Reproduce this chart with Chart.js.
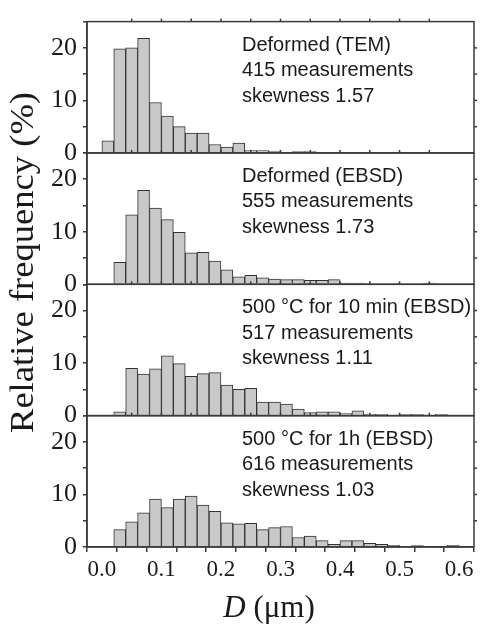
<!DOCTYPE html>
<html>
<head>
<meta charset="utf-8">
<script src="https://cdn.jsdelivr.net/npm/chart.js@4.4.1/dist/chart.umd.min.js"></script>
<style>
    html, body { margin: 0; padding: 0; background: #fff; }
    #wrap { width: 491px; height: 626px; }
</style>
</head>
<body>
<div id="wrap"><canvas id="histChart" width="491" height="626"></canvas></div>
<script>
// bin centres (um), 0.02 wide bins
const binCenters = [0.01, 0.03, 0.05, 0.07, 0.09, 0.11, 0.13, 0.15, 0.17, 0.19,
    0.21, 0.23, 0.25, 0.27, 0.29, 0.31, 0.33, 0.35, 0.37, 0.39,
    0.41, 0.43, 0.45, 0.47, 0.49, 0.51, 0.53, 0.55, 0.57, 0.59];

// relative frequency (%) per bin
const deformedTem = [2.3, 19.8, 20.0, 21.8, 9.6, 7.0, 5.0, 3.8, 3.8, 1.6,
    1.1, 1.9, 0.45, 0.45, 0.35, 0, 0.25, 0.25, 0, 0,
    0, 0, 0, 0, 0, 0, 0, 0, 0, 0];
const deformedEbsd = [0, 4.2, 13.2, 17.9, 14.5, 12.3, 9.9, 6.0, 6.1, 4.4,
    2.75, 1.4, 1.7, 1.25, 1.0, 0.9, 0.9, 0.75, 0.75, 0.9,
    0.25, 0.25, 0, 0, 0, 0, 0, 0.25, 0, 0];
const annealed10min = [0, 0.75, 9.0, 7.9, 8.9, 11.4, 9.9, 7.5, 8.0, 8.2,
    5.8, 5.0, 5.2, 2.6, 2.6, 2.2, 1.25, 0.6, 0.75, 0.75,
    0.4, 0.9, 0.25, 0.25, 0, 0.25, 0.25, 0, 0.25, 0];
const annealed1h = [0, 3.3, 4.8, 6.5, 9.1, 7.5, 9.1, 9.7, 8.0, 6.8,
    4.6, 4.4, 4.5, 3.3, 3.7, 3.9, 1.8, 2.1, 1.2, 0.5,
    1.2, 1.2, 0.7, 0.5, 0.3, 0.1, 0.25, 0, 0.15, 0.3];

const panelSeries = [deformedTem, deformedEbsd, annealed10min, annealed1h];
const panelLabels = [
    ['Deformed (TEM)', '415 measurements', 'skewness 1.57'],
    ['Deformed (EBSD)', '555 measurements', 'skewness 1.73'],
    ['500 \u00B0C for 10 min (EBSD)', '517 measurements', 'skewness 1.11'],
    ['500 \u00B0C for 1h (EBSD)', '616 measurements', 'skewness 1.03']
];
const xTitleItalic = 'D';
const xTitleRest = ' (\u03BCm)';
const yTitle = 'Relative frequency (%)';

const panelIds = ['y1', 'y2', 'y3', 'y4'];   // top to bottom
const lineColor = '#3a3a3a';
const serif = "'Liberation Serif', 'Times New Roman', serif";
const sans = "'Liberation Sans', Arial, sans-serif";

function line(ctx, x1, y1, x2, y2) {
    ctx.beginPath();
    ctx.moveTo(x1, y1);
    ctx.lineTo(x2, y2);
    ctx.stroke();
}

// panel frames plus the small ticks on the top and right edges
const framePlugin = {
    id: 'frame',
    afterDatasetsDraw(chart) {
        const { ctx, chartArea: ca, scales } = chart;
        ctx.save();
        ctx.strokeStyle = lineColor;
        ctx.lineWidth = 1.5;
        panelIds.forEach(id => {
            const s = scales[id];
            ctx.strokeRect(ca.left, s.top, ca.right - ca.left, s.bottom - s.top);
            [5, 10, 15, 20].forEach(v => {
                const y = s.getPixelForValue(v);
                line(ctx, ca.right, y, ca.right + 3, y);
            });
            for (let k = 1; k < 12; k++) {
                const x = scales.x.getPixelForValue(k * 0.05);
                line(ctx, x, s.top, x, s.top - 3);
            }
        });
        ctx.restore();
    },
    afterDraw(chart) {
        const { ctx, chartArea: ca, scales } = chart;
        ctx.save();
        ctx.fillStyle = '#1a1a1a';

        // panel annotations
        ctx.font = '20px ' + sans;
        ctx.textAlign = 'left';
        ctx.textBaseline = 'alphabetic';
        panelIds.forEach((id, i) => {
            const top = scales[id].top;
            panelLabels[i].forEach((txt, j) => {
                ctx.fillText(txt, ca.left + 155, top + 29 + j * 25.5);
            });
        });

        // y title, stretched along its length like the original
        ctx.save();
        ctx.translate(33, 262.5);
        ctx.rotate(-Math.PI / 2);
        ctx.font = '33px ' + serif;
        const w = ctx.measureText(yTitle).width;
        ctx.scale(341 / w, 1);
        ctx.textAlign = 'center';
        ctx.fillText(yTitle, 0, 0);
        ctx.restore();

        // x title with italic D
        ctx.font = 'italic 31px ' + serif;
        const w1 = ctx.measureText(xTitleItalic).width;
        ctx.font = '31px ' + serif;
        const w2 = ctx.measureText(xTitleRest).width;
        const x0 = 269 - (w1 + w2) / 2;
        ctx.textAlign = 'left';
        ctx.font = 'italic 31px ' + serif;
        ctx.fillText(xTitleItalic, x0, 617);
        ctx.font = '31px ' + serif;
        ctx.fillText(xTitleRest, x0 + w1, 617);
        ctx.restore();
    }
};

const datasets = panelSeries.map((vals, i) => ({
    data: binCenters.map((c, k) => ({ x: c, y: vals[k] })),
    yAxisID: panelIds[i],
    backgroundColor: '#c9c9c9',
    borderColor: '#333',
    borderWidth: 1,
    barPercentage: 1,
    categoryPercentage: 1,
    grouped: false
}));

function yScale() {
    return {
        type: 'linear',
        position: 'left',
        stack: 'panels',
        stackWeight: 1,
        min: 0,
        max: 25,
        afterFit: s => { s.width = 87; },
        ticks: {
            stepSize: 5,
            autoSkip: false,
            padding: 6,
            color: '#1a1a1a',
            font: { family: serif, size: 26 },
            callback: v => (v % 10 === 0 && v <= 20) ? String(v) : ''
        },
        grid: { drawOnChartArea: false, tickLength: 4, color: lineColor, lineWidth: 1.5 },
        border: { color: lineColor, width: 1.5 }
    };
}

const scales = {
    x: {
        type: 'linear',
        position: 'bottom',
        min: 0,
        max: 0.6,
        afterFit: s => { s.height = 79; },
        ticks: {
            stepSize: 0.05,
            autoSkip: false,
            maxRotation: 0,
            padding: 4,
            color: '#1a1a1a',
            font: { family: serif, size: 23 },
            callback: v => Math.abs(v * 10 - Math.round(v * 10)) < 1e-6 ? v.toFixed(1) : ''
        },
        grid: { drawOnChartArea: false, tickLength: 5, color: lineColor, lineWidth: 1.5 },
        border: { color: lineColor, width: 1.5 }
    }
};
// stacked axes declared later end up higher, so add them bottom-first
panelIds.slice().reverse().forEach(id => { scales[id] = yScale(); });

new Chart(document.getElementById('histChart'), {
    type: 'bar',
    data: { datasets },
    options: {
        responsive: false,
        animation: false,
        devicePixelRatio: 1,
        layout: { padding: { top: 15, right: 17, left: 0, bottom: 0 } },
        plugins: { legend: { display: false }, tooltip: { enabled: false } },
        scales
    },
    plugins: [framePlugin]
});
</script>
</body>
</html>
